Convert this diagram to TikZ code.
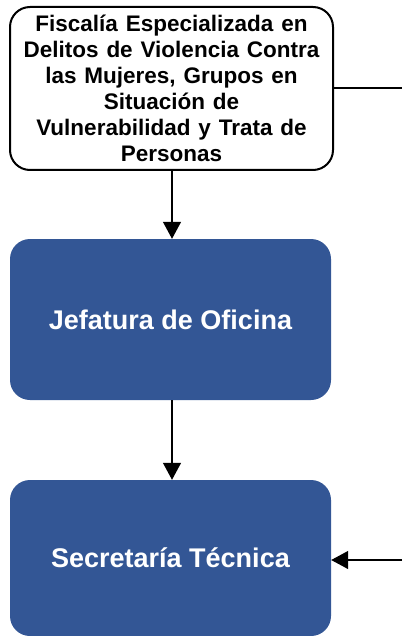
\documentclass[tikz,border=0pt]{standalone}
\usepackage{fontspec}
\setmainfont{Liberation Sans}
\usetikzlibrary{arrows.meta}
\definecolor{boxblue}{RGB}{51,86,149}
\newcommand{\widespace}{\spaceskip=0.35em\relax}
\begin{document}
\begin{tikzpicture}[x=1pt,y=-1pt,
  topbox/.style={draw=black,line width=2pt,fill=white,rounded corners=20pt,
    minimum width=323pt,minimum height=163pt,inner sep=0pt,align=center,
    font=\fontsize{22.5pt}{26pt}\selectfont\bfseries\widespace},
  bluebox/.style={fill=boxblue,rounded corners=20pt,minimum width=321pt,
    inner sep=0pt,text=white,font=\fontsize{27pt}{30pt}\selectfont\bfseries},
  conn/.style={line width=1.3pt,-{Triangle[width=18pt,length=17pt]}}]
\useasboundingbox (0,0) rectangle (402,636);
\node[topbox] (fis) at (171.5,88.5) {Fiscalía Especializada en\\Delitos de Violencia Contra\\las Mujeres, Grupos en\\Situación de\\Vulnerabilidad y Trata de\\Personas};
\node[bluebox,minimum height=161pt] (jef) at (170.5,319.5) {Jefatura de Oficina};
\node[bluebox,minimum height=156pt] (sec) at (170.5,558) {Secretaría Técnica};
\coordinate (r1) at (402,88);
\coordinate (r2) at (402,560);
\draw[line width=1.3pt] (fis.east |- r1) -- (r1);
\draw[conn] (fis.south -| 172,0) -- (jef.north -| 172,0);
\draw[conn] (jef.south -| 172,0) -- (sec.north -| 172,0);
\draw[conn] (r2) -- (sec.east |- r2);
\end{tikzpicture}
\end{document}
